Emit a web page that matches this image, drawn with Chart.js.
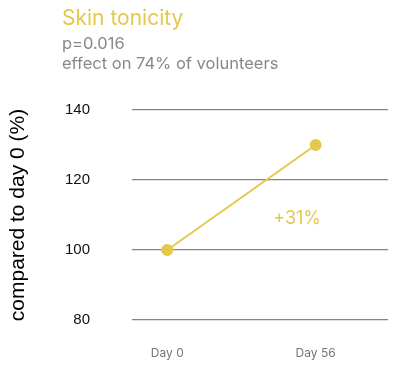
<!DOCTYPE html>
<html>
<head>
<meta charset="utf-8">
<script src="https://cdn.jsdelivr.net/npm/chart.js@4"></script>
<style>
  body { margin: 0; background: #fff; }
  #wrap { position: relative; width: 400px; height: 366px; }
  canvas { display: block; }
  #heading { position: absolute; left: 62px; top: 5px; font-family: Inter, sans-serif; }
  #heading .t { color: #e5c84b; font-size: 21px; line-height: 26px; }
  #heading .s { color: #888; font-size: 16.5px; line-height: 20px; }
  #heading .t + .s { margin-top: 2px; }
</style>
</head>
<body>
<div id="wrap">
  <canvas id="tonicity" width="400" height="366"></canvas>
  <div id="heading">
    <div class="t">Skin tonicity</div>
    <div class="s">p=0.016</div>
    <div class="s">effect on 74% of volunteers</div>
  </div>
</div>
<script>
//Data
const days = [0, 56];
const dayLabels = ['Day 0', 'Day 56'];
const tonicity = [100, 130];
const yTicks = [80, 100, 120, 140];
const effectLabel = '+31%';
const effectAt = [49, 109];

const yellow = '#e5c84b';

//draws the +31% text at a spot given in data units
const effectText = {
    id: 'effectText',
    afterDatasetsDraw(chart) {
        const ctx = chart.ctx;
        const x = chart.scales.x.getPixelForValue(effectAt[0]);
        const y = chart.scales.y.getPixelForValue(effectAt[1]);
        ctx.save();
        ctx.font = '18px Inter, sans-serif';
        ctx.fillStyle = yellow;
        ctx.textAlign = 'center';
        ctx.textBaseline = 'middle';
        ctx.fillText(effectLabel, x, y);
        ctx.restore();
    }
};

const ctx = document.getElementById('tonicity');
const chart = new Chart(ctx, {
    type: 'line',
    data: {
        datasets: [{
            label: 'Skin tonicity',
            data: days.map((d, i) => ({x: d, y: tonicity[i]})),
            borderColor: yellow,
            backgroundColor: yellow,
            borderWidth: 2,
            pointRadius: 5,
            pointHoverRadius: 5,
            tension: 0,
        }]
    },
    options: {
        responsive: false,
        animation: false,
        layout: {padding: {top: 110, right: 12, left: 0, bottom: 0}},
        plugins: {
            legend: {display: false},
            tooltip: {enabled: false},
        },
        scales: {
            x: {
                type: 'linear',
                min: -13.3,
                max: 83.3,
                afterBuildTicks: scale => { scale.ticks = days.map(v => ({value: v})); },
                afterFit: scale => { scale.height = 46; },
                ticks: {
                    callback: (v) => dayLabels[days.indexOf(v)],
                    color: '#777',
                    font: {family: 'Inter, sans-serif', size: 12},
                    padding: 18,
                    maxRotation: 0,
                },
                grid: {display: false},
                border: {display: false},
            },
            y: {
                min: 80,
                max: 140,
                afterBuildTicks: scale => { scale.ticks = yTicks.map(v => ({value: v})); },
                // big tick padding would otherwise eat into the plot height
                afterFit: scale => {
                    scale.width = 132;
                    scale.paddingTop = 0;
                    scale.paddingBottom = 0;
                },
                ticks: {
                    color: '#111',
                    font: {family: '"Liberation Sans", Arial, sans-serif', size: 15},
                    padding: 42,
                },
                grid: {color: '#858585', lineWidth: 1.3, drawTicks: false},
                border: {display: false},
                title: {
                    display: true,
                    text: 'compared to day 0 (%)',
                    color: '#000',
                    font: {family: '"Liberation Sans", Arial, sans-serif', size: 21},
                    padding: {top: 6, bottom: 0},
                },
            },
        },
    },
    plugins: [effectText],
});
</script>
</body>
</html>
